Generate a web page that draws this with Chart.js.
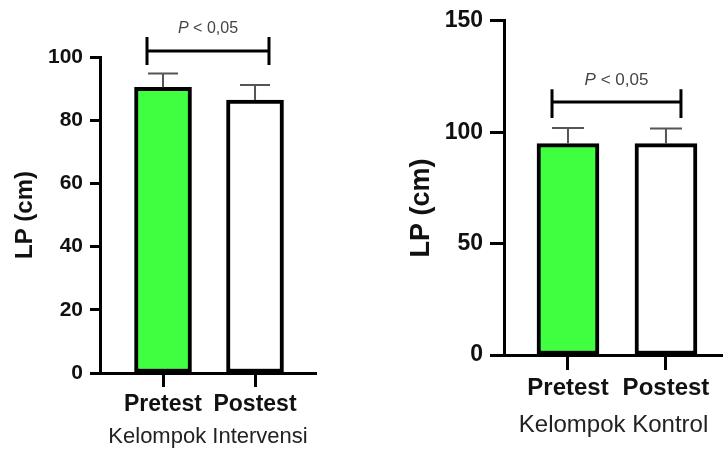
<!DOCTYPE html>
<html>
<head>
<meta charset="utf-8">
<script src="https://cdn.jsdelivr.net/npm/chart.js@4"></script>
<style>
  html, body { margin: 0; padding: 0; background: #fff; }
  #wrap { position: relative; width: 723px; height: 453px; overflow: hidden; }
  canvas { position: absolute; top: 0; }
  #left { left: 0; }
  #right { left: 400px; }
</style>
</head>
<body>
<div id="wrap">
  <canvas id="left" width="400" height="453"></canvas>
  <canvas id="right" width="323" height="453"></canvas>
</div>
<script>
// ── Data ─────────────────────────────────────────────
const categories = ['Pretest', 'Postest'];
const intervensiMean = [90.4, 86.4];
const intervensiSD = [4.4, 4.7];
const kontrolMean = [94.9, 94.9];
const kontrolSD = [7.0, 6.8];
const intervensiTicks = [0, 20, 40, 60, 80, 100];
const kontrolTicks = [0, 50, 100, 150];
const barColors = ['#40FF40', '#FFFFFF'];
const pLabel = ['P', ' < 0,05'];

const FONT = "'Liberation Sans', Arial, sans-serif";

// ── Plugins ──────────────────────────────────────────
const errorBars = {
    id: 'errorBars',
    afterDatasetsDraw(chart, args, opts) {
        const { ctx } = chart;
        const ds = chart.data.datasets[0];
        const meta = chart.getDatasetMeta(0);
        const y = chart.scales.y;
        ctx.save();
        ctx.strokeStyle = opts.color;
        ctx.lineWidth = opts.width;
        meta.data.forEach((bar, i) => {
            const top = y.getPixelForValue(ds.data[i].y + ds.sd[i]);
            ctx.beginPath();
            ctx.moveTo(bar.x, bar.y);
            ctx.lineTo(bar.x, top);
            ctx.moveTo(bar.x - opts.cap / 2, top);
            ctx.lineTo(bar.x + opts.cap / 2, top);
            ctx.stroke();
        });
        ctx.restore();
    },
};

const bracket = {
    id: 'bracket',
    afterDraw(chart, args, o) {
        const { ctx } = chart;
        const x = chart.scales.x, y = chart.scales.y;
        const x1 = x.getPixelForValue(o.from), x2 = x.getPixelForValue(o.to);
        const yl = y.getPixelForValue(o.level);
        const yt = y.getPixelForValue(o.tickTop), yb = y.getPixelForValue(o.tickBottom);
        ctx.save();
        ctx.strokeStyle = '#000';
        ctx.lineWidth = 3;
        ctx.beginPath();
        ctx.moveTo(x1, yl); ctx.lineTo(x2, yl);
        ctx.moveTo(x1, yt); ctx.lineTo(x1, yb);
        ctx.moveTo(x2, yt); ctx.lineTo(x2, yb);
        ctx.stroke();

        // "P < 0,05" with italic P
        const fItalic = `italic ${o.fontSize}px ${FONT}`;
        const fNormal = `${o.fontSize}px ${FONT}`;
        ctx.font = fItalic;
        const w1 = ctx.measureText(pLabel[0]).width;
        ctx.font = fNormal;
        const w2 = ctx.measureText(pLabel[1]).width;
        const cx = (x1 + x2) / 2;
        const ty = y.getPixelForValue(o.textLevel);
        ctx.fillStyle = '#444';
        ctx.textBaseline = 'middle';
        ctx.textAlign = 'left';
        ctx.font = fItalic;
        ctx.fillText(pLabel[0], cx - (w1 + w2) / 2, ty);
        ctx.font = fNormal;
        ctx.fillText(pLabel[1], cx - (w1 + w2) / 2 + w1, ty);
        ctx.restore();
    },
};

const sideTitle = {
    id: 'sideTitle',
    afterDraw(chart, args, o) {
        const { ctx } = chart;
        ctx.save();
        ctx.translate(o.x, o.y);
        ctx.rotate(-Math.PI / 2);
        ctx.font = `bold ${o.fontSize}px ${FONT}`;
        ctx.fillStyle = '#111';
        ctx.textAlign = 'center';
        ctx.textBaseline = 'middle';
        ctx.fillText(o.text, 0, 0);
        ctx.restore();
    },
};

// ── Chart builder ────────────────────────────────────
function makeChart(canvasId, means, sd, ticks, s) {
    const ctx = document.getElementById(canvasId).getContext('2d');
    return new Chart(ctx, {
        type: 'bar',
        data: {
            datasets: [{
                data: categories.map((c, i) => ({ x: i, y: means[i] })),
                sd: sd,
                backgroundColor: barColors,
                borderColor: '#000',
                borderWidth: 4,
                borderSkipped: false,
                barThickness: s.barWidth,
            }],
        },
        plugins: [errorBars, bracket, sideTitle],
        options: {
            responsive: false,
            animation: false,
            devicePixelRatio: 1,
            layout: { padding: { top: s.padTop, right: s.padRight, bottom: 0, left: 0 } },
            plugins: {
                legend: { display: false },
                tooltip: { enabled: false },
                errorBars: { color: '#555', width: 2, cap: s.cap },
                bracket: s.bracket,
                sideTitle: s.yTitle,
            },
            scales: {
                x: {
                    type: 'linear',
                    min: s.xMin,
                    max: s.xMax,
                    offset: false,
                    bounds: 'data',
                    afterBuildTicks: scale => { scale.ticks = categories.map((c, i) => ({ value: i })); },
                    afterFit: scale => { scale.height = s.xHeight; },
                    border: { color: '#000', width: 3 },
                    grid: { offset: false, drawOnChartArea: false, tickLength: s.xTickLen, tickWidth: 3, tickColor: '#000' },
                    ticks: {
                        color: '#111',
                        padding: s.xTickPad,
                        maxRotation: 0,
                        autoSkip: false,
                        font: { family: FONT, size: s.xFont, weight: 'bold' },
                        callback: v => categories[v],
                    },
                    title: {
                        display: true,
                        text: s.xTitle,
                        color: '#222',
                        padding: { top: 0, bottom: s.xTitlePad },
                        font: { family: FONT, size: s.xTitleFont },
                    },
                },
                y: {
                    min: 0,
                    max: ticks[ticks.length - 1],
                    afterBuildTicks: scale => { scale.ticks = ticks.map(v => ({ value: v })); },
                    afterFit: scale => { scale.width = s.yWidth; },
                    border: { color: '#000', width: 3 },
                    grid: { drawOnChartArea: false, tickLength: s.yTickLen, tickWidth: 3, tickColor: '#000' },
                    ticks: {
                        color: '#111',
                        padding: 7,
                        font: { family: FONT, size: s.yFont, weight: 'bold' },
                    },
                },
            },
        },
    });
}

makeChart('left', intervensiMean, intervensiSD, intervensiTicks, {
    barWidth: 57, cap: 30,
    padTop: 57, padRight: 84, yWidth: 100, xHeight: 80,
    xMin: -0.685, xMax: 1.663,
    xTickLen: 14, xTickPad: 4, xFont: 23,
    xTitle: 'Kelompok Intervensi', xTitleFont: 22, xTitlePad: 3,
    yTickLen: 10, yFont: 21,
    yTitle: { text: 'LP (cm)', x: 25, y: 215, fontSize: 24 },
    bracket: { from: -0.174, to: 1.152, level: 101.9, tickTop: 106.3, tickBottom: 97.5, textLevel: 108.9, fontSize: 16 },
});

makeChart('right', kontrolMean, kontrolSD, kontrolTicks, {
    barWidth: 62, cap: 32,
    padTop: 18, padRight: 0, yWidth: 104, xHeight: 98,
    xMin: -0.653, xMax: 1.582,
    xTickLen: 15, xTickPad: 4, xFont: 24,
    xTitle: 'Kelompok Kontrol', xTitleFont: 24, xTitlePad: 13,
    yTickLen: 14, yFont: 23,
    yTitle: { text: 'LP (cm)', x: 22, y: 208, fontSize: 27 },
    bracket: { from: -0.163, to: 1.153, level: 113.5, tickTop: 119.3, tickBottom: 106.4, textLevel: 123.3, fontSize: 17 },
});
</script>
</body>
</html>
